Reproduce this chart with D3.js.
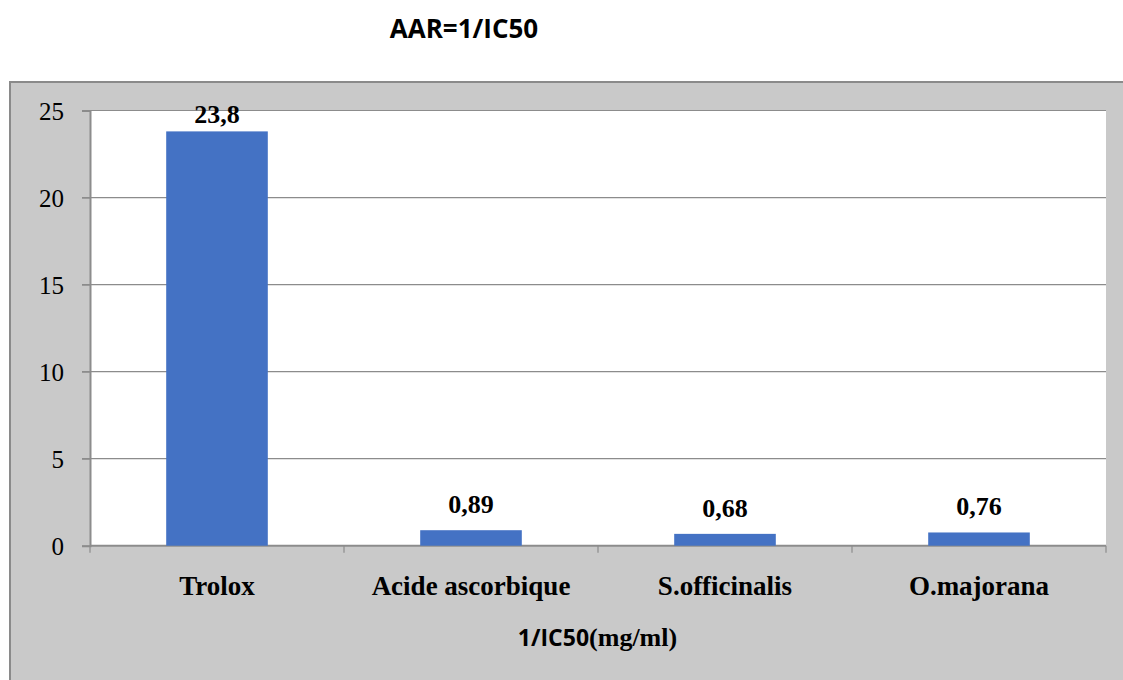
<!DOCTYPE html>
<html>
<head>
<meta charset="utf-8">
<script src="https://cdn.jsdelivr.net/npm/d3@7"></script>
<style>
  html, body { margin: 0; padding: 0; background: #ffffff; }
  svg { display: block; }
</style>
</head>
<body>
<script>
const categories = ["Trolox", "Acide ascorbique", "S.officinalis", "O.majorana"];
const values = [23.8, 0.89, 0.68, 0.76];
const valueLabels = ["23,8", "0,89", "0,68", "0,76"];
const yTicks = [0, 5, 10, 15, 20, 25];
const chartTitle = "AAR=1/IC50";
const axisTitleA = "1/IC50";
const axisTitleB = "(mg/ml)";

const W = 1123, H = 680;
const svg = d3.select("body").append("svg").attr("width", W).attr("height", H);

// outer chart area frame
svg.append("rect").attr("x", 10).attr("y", 82).attr("width", W - 10 + 5).attr("height", H - 82 + 5)
  .attr("fill", "#c9c9c9").attr("stroke", "#8a8a8a").attr("stroke-width", 2);

const plot = { left: 90, right: 1106, top: 110.5, bottom: 545.7 };

const x = d3.scaleBand().domain(categories).range([plot.left, plot.right])
  .paddingInner(0.6).paddingOuter(0.3);
const y = d3.scaleLinear().domain([0, 25]).range([plot.bottom, plot.top]);

// plot area
svg.append("rect").attr("x", plot.left).attr("y", plot.top)
  .attr("width", plot.right - plot.left).attr("height", plot.bottom - plot.top)
  .attr("fill", "#ffffff");

// gridlines
svg.append("g").selectAll("line").data(yTicks.filter(d => d > 0)).join("line")
  .attr("x1", plot.left - 8).attr("x2", plot.right)
  .attr("y1", d => y(d)).attr("y2", d => y(d))
  .attr("stroke", "#8c8c8c").attr("stroke-width", 1.2);

// y axis
const yAxis = d3.axisLeft(y).tickValues(yTicks).tickSize(8).tickPadding(18).tickFormat(d3.format("d"));
const gy = svg.append("g").attr("transform", `translate(${plot.left},0)`).call(yAxis);
gy.select(".domain").attr("stroke", "#8c8c8c").attr("stroke-width", 2);
gy.selectAll(".tick line").attr("stroke", "#8c8c8c").attr("stroke-width", 1.2);
gy.selectAll(".tick text").attr("font-family", "'Liberation Serif', 'Times New Roman', serif")
  .attr("font-size", 25).attr("fill", "#000").attr("dy", "0.34em");

// x axis line and ticks between categories
svg.append("line").attr("x1", plot.left).attr("x2", plot.right)
  .attr("y1", plot.bottom).attr("y2", plot.bottom)
  .attr("stroke", "#8c8c8c").attr("stroke-width", 2);
const tickXs = d3.range(categories.length + 1).map(i => plot.left + i * x.step());
svg.append("g").selectAll("line").data(tickXs).join("line")
  .attr("x1", d => d).attr("x2", d => d)
  .attr("y1", plot.bottom).attr("y2", plot.bottom + 7)
  .attr("stroke", "#8c8c8c").attr("stroke-width", 1.2);

// bars
svg.append("g").selectAll("rect").data(values).join("rect")
  .attr("x", (d, i) => x(categories[i]))
  .attr("y", d => y(d))
  .attr("width", x.bandwidth())
  .attr("height", d => y(0) - y(d))
  .attr("fill", "#4472c4");

// value labels
svg.append("g").selectAll("text").data(values).join("text")
  .attr("x", (d, i) => x(categories[i]) + x.bandwidth() / 2)
  .attr("y", d => Math.max(y(d) - 17, plot.top + 12.5))
  .attr("text-anchor", "middle")
  .attr("font-family", "'Liberation Serif', 'Times New Roman', serif")
  .attr("font-weight", "bold").attr("font-size", 26).attr("fill", "#000")
  .text((d, i) => valueLabels[i]);

// category labels
svg.append("g").selectAll("text").data(categories).join("text")
  .attr("x", d => x(d) + x.bandwidth() / 2)
  .attr("y", 595)
  .attr("text-anchor", "middle")
  .attr("font-family", "'Liberation Serif', 'Times New Roman', serif")
  .attr("font-weight", "bold").attr("font-size", 27).attr("fill", "#000")
  .text(d => d);

// axis title
const at = svg.append("text").attr("x", 597.5).attr("y", 646).attr("text-anchor", "middle")
  .attr("font-weight", "bold").attr("fill", "#000");
at.append("tspan").attr("font-family", "'Open Sans', 'Noto Sans', sans-serif").attr("font-size", 23).text(axisTitleA);
at.append("tspan").attr("font-family", "'Liberation Serif', serif").attr("font-size", 26).text(axisTitleB);

// chart title
svg.append("text").attr("x", 464).attr("y", 38).attr("text-anchor", "middle")
  .attr("font-family", "'Open Sans', 'Noto Sans', sans-serif")
  .attr("font-weight", "bold").attr("font-size", 26).attr("fill", "#000")
  .text(chartTitle);
</script>
</body>
</html>
